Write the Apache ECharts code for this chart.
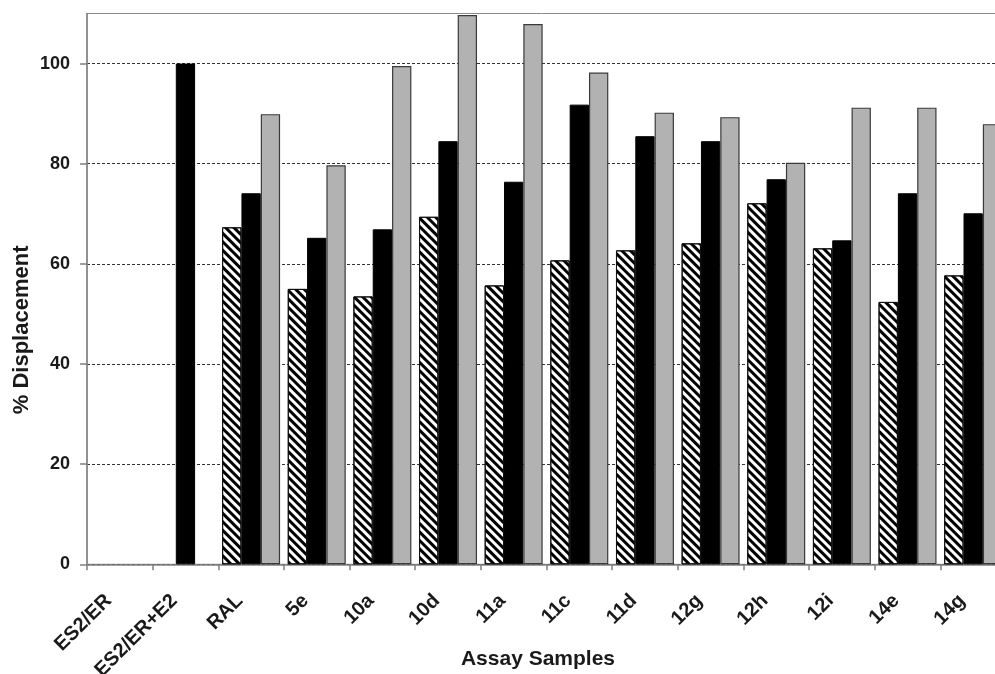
<!DOCTYPE html>
<html><head><meta charset="utf-8">
<script src="https://cdn.jsdelivr.net/npm/echarts@6/dist/echarts.min.js"></script>
<style>html,body{margin:0;padding:0;background:#fff}#c{width:995px;height:674px}</style>
</head><body><div id="c"></div>
<script>
const categories = ['ES2/ER','ES2/ER+E2','RAL','5e','10a','10d','11a','11c','11d','12g','12h','12i','14e','14g'];
const hatchedValues = [null,null,67.3,55.0,53.5,69.4,55.7,60.7,62.7,64.1,72.1,63.1,52.4,57.7];
const blackValues = [null,100,74.1,65.2,66.9,84.5,76.4,91.8,85.5,84.5,76.9,64.7,74.1,70.1];
const grayValues = [null,null,89.9,79.7,99.5,109.7,107.9,98.2,90.2,89.3,80.2,91.2,91.2,87.9];
const yTicks = [0,20,40,60,80,100];
const yMax = 110;

const FONT = "'Liberation Sans', Arial, sans-serif";
const chart = echarts.init(document.getElementById('c'), null, {renderer:'canvas'});
chart.setOption({
  animation:false,
  backgroundColor:'#fff',
  grid:{left:87, top:13.5, bottom:109.7, right:-11, outerBoundsMode:'none', show:true, borderColor:'#8a8a8a', borderWidth:1, backgroundColor:'transparent', containLabel:false},
  xAxis:{
    type:'category', data:categories,
    axisLine:{lineStyle:{color:'#808080', width:1.5}},
    axisTick:{show:true, length:6, alignWithLabel:false, lineStyle:{color:'#808080', width:1.5}},
    axisLabel:{rotate:45, margin:22, interval:0, padding:[0,16,0,0], fontFamily:FONT, fontWeight:'bold', fontSize:20, color:'#1a1a1a'},
    name:'Assay Samples', nameLocation:'middle', nameGap:84, nameMoveOverlap:false,
    nameTextStyle:{fontFamily:FONT, fontWeight:'bold', fontSize:21, color:'#1a1a1a', padding:[0,17,0,0]}
  },
  yAxis:{
    type:'value', min:0, max:yMax, interval:20,
    axisLine:{show:true, lineStyle:{color:'#808080', width:1.5}},
    axisTick:{show:true, length:7, customValues:yTicks, lineStyle:{color:'#808080', width:1.5}},
    axisLabel:{margin:17, customValues:yTicks, fontFamily:FONT, fontWeight:'bold', fontSize:18, color:'#1a1a1a'},
    splitLine:{show:true, lineStyle:{color:'#333', type:[3,2], width:1}},
    name:'% Displacement', nameLocation:'middle', nameGap:54, nameRotate:90, nameMoveOverlap:false,
    nameTextStyle:{fontFamily:FONT, fontWeight:'bold', fontSize:22, color:'#1a1a1a', padding:[0,82,0,0]}
  },
  series:[
    {type:'bar', name:'hatched', data:hatchedValues, barGap:'0%', barCategoryGap:'11.7%',
     itemStyle:{color:'#fff', borderColor:'#111', borderWidth:1,
       decal:{symbol:'rect', symbolSize:1, color:'#000', dashArrayX:[1,0], dashArrayY:[2.5,2.5], rotation:Math.PI/4}}},
    {type:'bar', name:'black', data:blackValues, barGap:'0%', barCategoryGap:'11.7%',
     itemStyle:{color:'#000', borderColor:'#000', borderWidth:1}},
    {type:'bar', name:'gray', data:grayValues, barGap:'0%', barCategoryGap:'11.7%',
     itemStyle:{color:'#b2b2b2', borderColor:'#3a3a3a', borderWidth:1.2}}
  ]
});
</script>
</body></html>
